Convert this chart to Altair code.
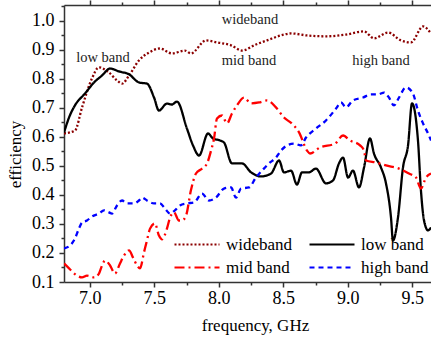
import altair as alt
import pandas as pd

# ---- measured efficiency curves (frequency in GHz) ----
wide_f = [6.800, 6.885, 6.940, 7.017, 7.071, 7.149, 7.211, 7.250, 7.304, 7.381,
          7.459, 7.544, 7.637, 7.738, 7.784, 7.901, 7.986, 8.095, 8.180, 8.288,
          8.374, 8.505, 8.560, 8.684, 8.831, 8.986, 9.126, 9.203, 9.312, 9.412,
          9.490, 9.583, 9.645]
wide_e = [0.612, 0.622, 0.702, 0.802, 0.840, 0.822, 0.795, 0.784, 0.812, 0.864,
          0.891, 0.905, 0.888, 0.898, 0.888, 0.933, 0.926, 0.916, 0.898, 0.919,
          0.933, 0.953, 0.957, 0.950, 0.947, 0.953, 0.964, 0.940, 0.960, 0.933,
          0.926, 0.981, 0.957]

low_f = [6.800, 6.839, 6.885, 6.963, 7.033, 7.095, 7.157, 7.226, 7.304, 7.381,
         7.443, 7.498, 7.536, 7.598, 7.637, 7.676, 7.753, 7.800, 7.847, 7.916,
         7.955, 8.009, 8.040, 8.102, 8.180, 8.250, 8.327, 8.405, 8.467, 8.505,
         8.560, 8.606, 8.645, 8.699, 8.753, 8.831, 8.885, 8.932, 8.963, 9.002,
         9.040, 9.087, 9.126, 9.172, 9.203, 9.257, 9.296, 9.335, 9.350, 9.389,
         9.428, 9.467, 9.498, 9.544, 9.567, 9.591, 9.622, 9.645]
low_e = [0.615, 0.667, 0.709, 0.750, 0.788, 0.812, 0.836, 0.826, 0.816, 0.788,
         0.784, 0.736, 0.691, 0.715, 0.712, 0.722, 0.629, 0.571, 0.536, 0.612,
         0.595, 0.588, 0.581, 0.509, 0.509, 0.478, 0.464, 0.474, 0.519, 0.478,
         0.484, 0.436, 0.478, 0.478, 0.491, 0.440, 0.450, 0.509, 0.529, 0.460,
         0.484, 0.426, 0.495, 0.595, 0.543, 0.495, 0.440, 0.322, 0.243, 0.322,
         0.495, 0.571, 0.716, 0.588, 0.416, 0.312, 0.278, 0.288]

mid_f = [6.800, 6.839, 6.901, 6.940, 6.978, 7.033, 7.071, 7.095, 7.118, 7.157,
         7.195, 7.234, 7.265, 7.304, 7.335, 7.366, 7.389, 7.420, 7.443, 7.467,
         7.505, 7.536, 7.560, 7.598, 7.622, 7.653, 7.691, 7.715, 7.746, 7.784,
         7.823, 7.870, 7.909, 7.940, 7.963, 7.986, 8.025, 8.064, 8.102, 8.141,
         8.195, 8.250, 8.312, 8.374, 8.443, 8.505, 8.567, 8.622, 8.684, 8.707,
         8.784, 8.901, 8.963, 9.017, 9.095, 9.126, 9.141, 9.219, 9.296, 9.397,
         9.474, 9.529, 9.567, 9.606, 9.645]
mid_e = [0.164, 0.147, 0.122, 0.116, 0.122, 0.116, 0.129, 0.157, 0.174, 0.157,
         0.129, 0.164, 0.191, 0.209, 0.184, 0.157, 0.147, 0.202, 0.243, 0.284,
         0.302, 0.260, 0.247, 0.284, 0.322, 0.340, 0.312, 0.312, 0.329, 0.416,
         0.474, 0.491, 0.509, 0.553, 0.595, 0.664, 0.674, 0.647, 0.681, 0.709,
         0.736, 0.716, 0.719, 0.726, 0.702, 0.667, 0.646, 0.616, 0.553, 0.543,
         0.564, 0.577, 0.605, 0.588, 0.571, 0.553, 0.519, 0.512, 0.502, 0.491,
         0.474, 0.460, 0.422, 0.460, 0.474]

high_f = [6.800, 6.847, 6.885, 6.916, 6.940, 6.978, 7.017, 7.071, 7.110, 7.149,
          7.172, 7.211, 7.250, 7.288, 7.343, 7.381, 7.405, 7.443, 7.498, 7.544,
          7.583, 7.622, 7.660, 7.699, 7.753, 7.808, 7.870, 7.924, 7.978, 8.040,
          8.095, 8.133, 8.172, 8.234, 8.288, 8.335, 8.389, 8.443, 8.482, 8.529,
          8.583, 8.637, 8.676, 8.753, 8.831, 8.909, 8.947, 8.986, 9.040, 9.118,
          9.180, 9.234, 9.281, 9.319, 9.358, 9.397, 9.451, 9.505, 9.544, 9.583,
          9.622, 9.645]
high_e = [0.216, 0.226, 0.250, 0.284, 0.305, 0.312, 0.326, 0.336, 0.347, 0.340,
          0.336, 0.364, 0.381, 0.371, 0.371, 0.381, 0.391, 0.381, 0.371, 0.371,
          0.353, 0.336, 0.347, 0.364, 0.371, 0.374, 0.405, 0.381, 0.391, 0.422,
          0.426, 0.391, 0.422, 0.426, 0.460, 0.484, 0.509, 0.529, 0.553, 0.571,
          0.577, 0.571, 0.598, 0.629, 0.657, 0.698, 0.719, 0.702, 0.726, 0.736,
          0.747, 0.747, 0.753, 0.736, 0.709, 0.736, 0.771, 0.750, 0.691, 0.647,
          0.612, 0.588]

bands = ["wideband", "low band", "mid band", "high band"]
band_colors = ["#8b0000", "#000000", "#ff0000", "#0000ff"]
band_dashes = [[2, 2], [1, 0], [10, 4, 2, 4], [5, 4]]

# in-plot band annotations
note_text = ["wideband", "low band", "mid band", "high band"]
note_f = [8.242, 7.102, 8.234, 9.257]
note_e = [0.988, 0.857, 0.847, 0.847]

# axis ticks: majors are labelled, the quarter / half-step ticks are minor
x_ticks = [7.0, 7.25, 7.5, 7.75, 8.0, 8.25, 8.5, 8.75, 9.0, 9.25, 9.5]
y_ticks = [0.1, 0.15, 0.2, 0.25, 0.3, 0.35, 0.4, 0.45, 0.5, 0.55, 0.6, 0.65,
           0.7, 0.75, 0.8, 0.85, 0.9, 0.95, 1.0, 1.05]

curves = pd.concat([
    pd.DataFrame({"frequency": wide_f, "efficiency": wide_e, "band": "wideband"}),
    pd.DataFrame({"frequency": low_f, "efficiency": low_e, "band": "low band"}),
    pd.DataFrame({"frequency": mid_f, "efficiency": mid_e, "band": "mid band"}),
    pd.DataFrame({"frequency": high_f, "efficiency": high_e, "band": "high band"}),
], ignore_index=True)
notes = pd.DataFrame({"label": note_text, "frequency": note_f, "efficiency": note_e})

FONT = "Liberation Serif"
x_major = "abs(datum.value * 2 - round(datum.value * 2)) < 0.001"
y_major = "abs(datum.value * 10 - round(datum.value * 10)) < 0.001"

x_scale = alt.Scale(domain=[6.8, 9.645], nice=False, zero=False)
y_scale = alt.Scale(domain=[0.1, 1.055], nice=False, zero=False)

x_bottom = alt.Axis(
    values=x_ticks, labelExpr=f"({x_major}) ? format(datum.value, '.1f') : ''",
    tickSize={"condition": {"test": x_major, "value": 5}, "value": 3},
    labelPadding=2, labelFontSize=18, labelFont=FONT, labelColor="black",
    title="frequency, GHz", titleFont=FONT, titleFontSize=17, titleFontWeight="normal",
    titleColor="black", titleX=191, titleY=48, titleBaseline="alphabetic",
    titleAlign="center", grid=False,
)
x_top = alt.Axis(
    orient="top", values=x_ticks, labels=False, title=None, grid=False,
    tickSize={"condition": {"test": x_major, "value": 5}, "value": 3},
)
y_left = alt.Axis(
    values=y_ticks, labelExpr=f"({y_major}) ? format(datum.value, '.1f') : ''",
    tickSize={"condition": {"test": y_major, "value": 5}, "value": 3},
    labelPadding=5, labelFontSize=18, labelFont=FONT, labelColor="black",
    title="efficiency", titleFont=FONT, titleFontSize=17, titleFontWeight="normal",
    titleColor="black", titleX=-49, titleY=149, titleBaseline="middle",
    titleAlign="center", grid=False,
)

legend = alt.Legend(
    orient="none", legendX=109, legendY=231, columns=2, direction="horizontal",
    title=None, symbolType="stroke", symbolSize=2025, symbolStrokeWidth=2.2,
    labelFont=FONT, labelFontSize=17, labelColor="black", labelOffset=5,
    columnPadding=15, rowPadding=5, padding=0, clipHeight=17,
)

lines = alt.Chart(curves).mark_line(strokeWidth=2.3, interpolate="monotone", clip=True).encode(
    x=alt.X("frequency:Q", scale=x_scale, axis=x_bottom),
    y=alt.Y("efficiency:Q", scale=y_scale, axis=y_left),
    color=alt.Color("band:N", scale=alt.Scale(domain=bands, range=band_colors),
                    sort=bands, legend=legend),
    strokeDash=alt.StrokeDash("band:N", scale=alt.Scale(domain=bands, range=band_dashes),
                              sort=bands, legend=legend),
)

labels = alt.Chart(notes).mark_text(
    font=FONT, fontSize=14.5, color="#222222", baseline="alphabetic", align="center"
).encode(
    x=alt.X("frequency:Q", scale=x_scale, axis=x_top),
    y=alt.Y("efficiency:Q", scale=y_scale, axis=y_left),
    text="label:N",
)

chart = alt.layer(lines, labels).resolve_axis(x="independent").properties(
    width=367, height=277,
    autosize=alt.AutoSizeParams(type="none"),
    padding={"left": 64, "top": 5, "right": 0, "bottom": 56},
    background="white",
).configure_view(stroke=None).configure_axis(
    domainColor="#333333", domainWidth=1.5, tickColor="#333333", tickWidth=1.5,
)

chart.save("out.html", embed_options={"renderer": "svg", "actions": False})
